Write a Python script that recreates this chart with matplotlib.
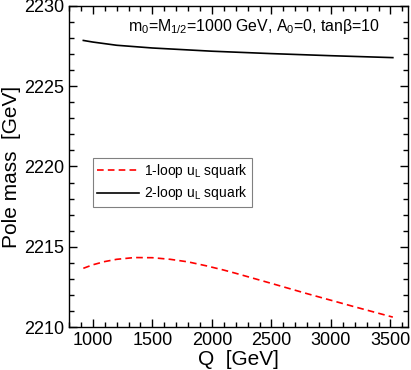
import matplotlib
matplotlib.use("Agg")
import matplotlib.pyplot as plt
from matplotlib.ticker import MultipleLocator

plt.rcParams['font.family'] = ['Liberation Sans', 'DejaVu Sans']
plt.rcParams['mathtext.fontset'] = 'custom'
plt.rcParams['mathtext.rm'] = 'Liberation Sans'
plt.rcParams['mathtext.it'] = 'Liberation Sans:italic'
plt.rcParams['mathtext.default'] = 'regular'

# 1-loop u_L squark pole mass vs scale Q
q_1loop = [920, 1000, 1100, 1200, 1350, 1500, 1650, 1800, 1950, 2100, 2200,
           2500, 2800, 3000, 3200, 3520]
m_1loop = [2213.66, 2213.88, 2214.08, 2214.22, 2214.33, 2214.32, 2214.22,
           2214.06, 2213.82, 2213.55, 2213.35, 2212.72, 2212.08, 2211.67,
           2211.26, 2210.62]

# 2-loop u_L squark pole mass vs scale Q
q_2loop = [920, 1000, 1200, 1500, 2000, 2500, 3000, 3520]
m_2loop = [2227.85, 2227.75, 2227.55, 2227.38, 2227.18, 2227.03, 2226.90,
           2226.78]

fig = plt.figure(figsize=(4.11, 3.70), dpi=100)
ax = fig.add_axes([0.168, 0.116, 0.824, 0.868])

ax.plot(q_1loop, m_1loop, color='red', ls=(0, (4, 2.5)), lw=1.2,
        label='1-loop u$_L$ squark')
ax.plot(q_2loop, m_2loop, color='black', lw=1.2,
        label='2-loop u$_L$ squark')

ax.set_xlim(800, 3645)
ax.set_ylim(2210, 2230)
ax.xaxis.set_major_locator(MultipleLocator(500))
ax.xaxis.set_minor_locator(MultipleLocator(100))
ax.yaxis.set_major_locator(MultipleLocator(5))
ax.yaxis.set_minor_locator(MultipleLocator(1))
ax.tick_params(which='both', direction='in', top=True, right=True, width=1)
ax.tick_params(which='major', length=6, labelsize=13)
ax.tick_params(which='minor', length=3.5)
for s in ax.spines.values():
    s.set_linewidth(1)

ax.set_xlabel('Q  [GeV]', fontsize=15, labelpad=1)
ax.set_ylabel('Pole mass  [GeV]', fontsize=15, labelpad=2)

ax.text(0.175, 0.935, 'm$_0$=M$_{1/2}$=1000 GeV, A$_0$=0, tan$\\beta$=10',
        transform=ax.transAxes, fontsize=11.4, va='center')

leg = ax.legend(loc='upper left', bbox_to_anchor=(0.062, 0.535), fontsize=10,
                fancybox=False, edgecolor='gray', handlelength=3.0,
                handletextpad=0.4, framealpha=1, borderpad=0.3,
                labelspacing=0.3, borderaxespad=0.2)
leg.get_frame().set_linewidth(0.8)

fig.savefig('out.png', dpi=100)
